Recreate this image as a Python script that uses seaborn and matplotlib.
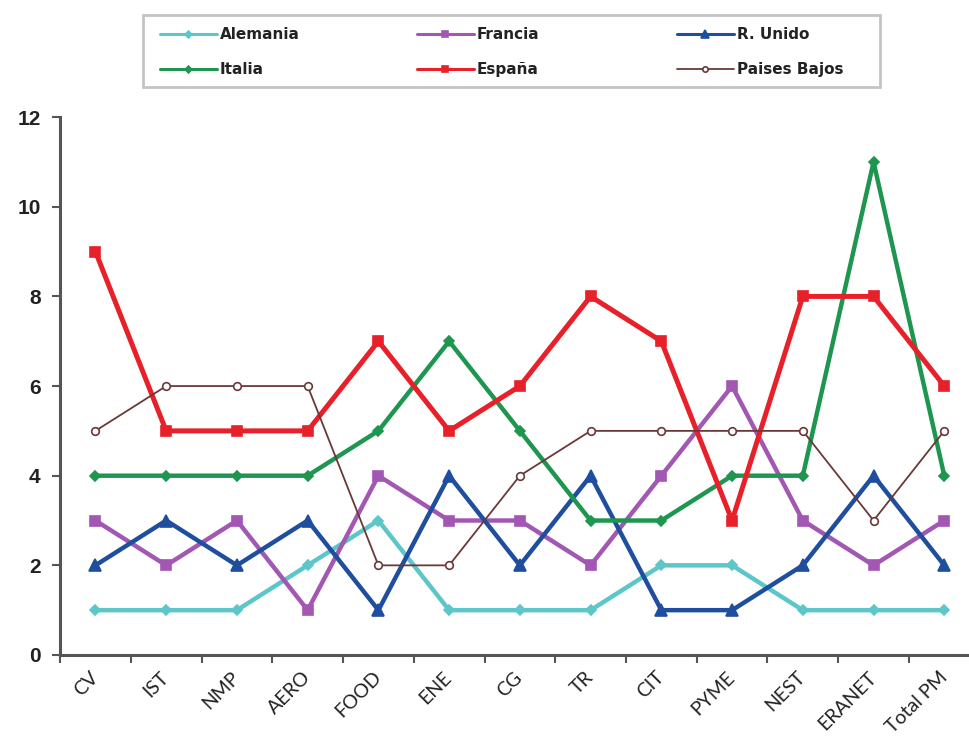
import matplotlib
matplotlib.use("Agg")
import matplotlib.pyplot as plt
import matplotlib.transforms as mtransforms
from matplotlib.patches import Rectangle
import seaborn as sns
import pandas as pd

categories = ["CV", "IST", "NMP", "AERO", "FOOD", "ENE", "CG", "TR", "CIT",
              "PYME", "NEST", "ERANET", "Total PM"]

alemania = [1, 1, 1, 2, 3, 1, 1, 1, 2, 2, 1, 1, 1]
francia = [3, 2, 3, 1, 4, 3, 3, 2, 4, 6, 3, 2, 3]
r_unido = [2, 3, 2, 3, 1, 4, 2, 4, 1, 1, 2, 4, 2]
italia = [4, 4, 4, 4, 5, 7, 5, 3, 3, 4, 4, 11, 4]
espana = [9, 5, 5, 5, 7, 5, 6, 8, 7, 3, 8, 8, 6]
paises_bajos = [5, 6, 6, 6, 2, 2, 4, 5, 5, 5, 5, 3, 5]

series_names = ["Alemania", "Francia", "R. Unido", "Italia", "España", "Paises Bajos"]
series_values = [alemania, francia, r_unido, italia, espana, paises_bajos]

styles = {
    "Alemania":     dict(color="#5cc6c9", marker="D", lw=3.2, ms=5, mfc="#5cc6c9"),
    "Francia":      dict(color="#a257b3", marker="s", lw=3.2, ms=7, mfc="#a257b3"),
    "R. Unido":     dict(color="#1f4e9e", marker="^", lw=3.2, ms=8, mfc="#1f4e9e"),
    "Italia":       dict(color="#1e9650", marker="D", lw=3.2, ms=5, mfc="#1e9650"),
    "España":       dict(color="#e8202a", marker="s", lw=3.6, ms=7, mfc="#e8202a"),
    "Paises Bajos": dict(color="#6b3838", marker="o", lw=1.3, ms=5.5, mfc="white"),
}

sns.set_style("white")
plt.rcParams["font.family"] = ["Liberation Sans", "DejaVu Sans"]

fig = plt.figure(figsize=(9.69, 7.46), dpi=100)
ax = fig.add_axes([0.062, 0.122, 0.949, 0.721])

handles = {}
for name, vals in zip(series_names, series_values):
    df = pd.DataFrame({"cat": categories, "val": vals})
    st = styles[name]
    sns.lineplot(data=df, x="cat", y="val", ax=ax, color=st["color"],
                 linewidth=st["lw"], marker=st["marker"], markersize=st["ms"],
                 markerfacecolor=st["mfc"], markeredgecolor=st["color"],
                 markeredgewidth=1.2, sort=False, label=name)
    handles[name] = ax.lines[-1]

ax.get_legend().remove()

ax.set_xlim(-0.5, len(categories) - 0.5)
ax.set_ylim(0, 12)
ax.set_yticks(range(0, 13, 2))
ax.set_yticklabels([str(v) for v in range(0, 13, 2)], fontsize=15,
                   fontweight="bold", color="#222222")

# tick marks sit on category boundaries, labels at category centres
ax.set_xticks([i - 0.5 for i in range(len(categories) + 1)])
ax.set_xticklabels([])
ax.set_xticks(range(len(categories)), minor=True)
ax.set_xticklabels(categories, minor=True, rotation=45, ha="right", va="center",
                   rotation_mode="anchor", fontsize=14,
                   family=["Lato", "DejaVu Sans"], color="#222222")
shift = mtransforms.ScaledTranslation(-12 / 100, -2 / 100, fig.dpi_scale_trans)
for lbl in ax.get_xticklabels(minor=True):
    lbl.set_transform(lbl.get_transform() + shift)
ax.tick_params(axis="x", which="minor", bottom=True, length=0, pad=14)
ax.tick_params(axis="x", which="major", bottom=True, length=6, width=1.5,
               color="#555555", direction="out")
ax.tick_params(axis="y", left=True, length=6, width=1.5, color="#555555",
               direction="out", pad=8)
ax.set_xlabel("")
ax.set_ylabel("")

for side in ["top", "right"]:
    ax.spines[side].set_visible(False)
for side in ["left", "bottom"]:
    ax.spines[side].set_color("#555555")
    ax.spines[side].set_linewidth(2.2)

# legend: boxed panel with three columns of two entries
W, H = 969.0, 746.0
fig.patches.append(Rectangle((143 / W, 1 - 87 / H), (880 - 143) / W, (87 - 15) / H,
                             transform=fig.transFigure, facecolor="white",
                             edgecolor="#c4c4c4", linewidth=2.0, zorder=0))
columns = [["Alemania", "Italia"], ["Francia", "España"], ["R. Unido", "Paises Bajos"]]
col_x = [160, 417, 677]
for names, x0 in zip(columns, col_x):
    leg = fig.legend([handles[n] for n in names], names, ncol=1,
                     loc="upper left", bbox_to_anchor=(x0 / W, 1 - 27 / H),
                     frameon=False, borderpad=0, borderaxespad=0,
                     handlelength=3.7, handletextpad=0.2, labelspacing=1.3,
                     markerscale=0.7,
                     prop={"family": "DejaVu Sans", "weight": "bold", "size": 11})
    for line in leg.get_lines():
        line.set_linewidth(min(line.get_linewidth(), 2.2))
    for t in leg.get_texts():
        t.set_color("#222222")

fig.savefig("out.png", dpi=100, facecolor="white")
